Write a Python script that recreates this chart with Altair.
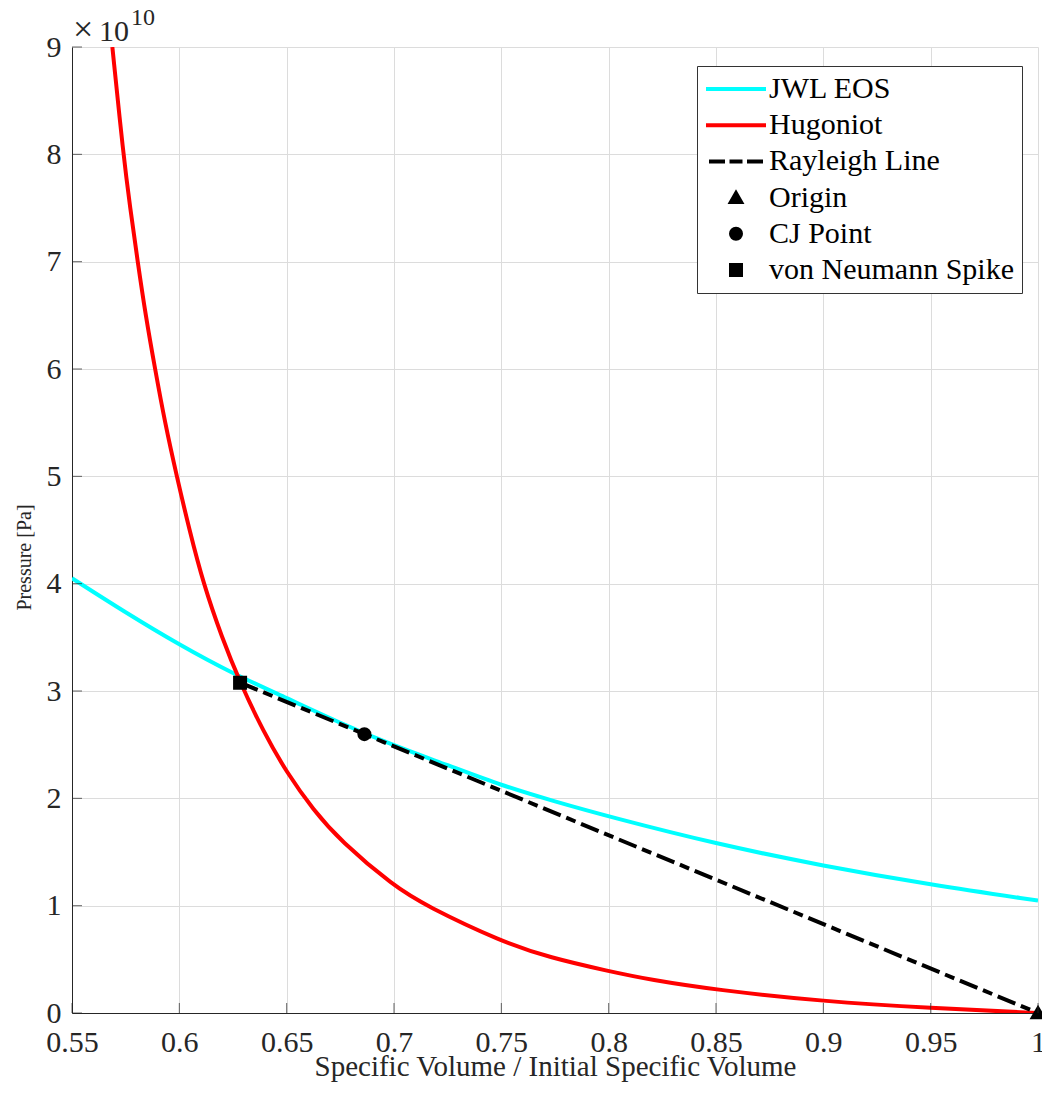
import altair as alt
import pandas as pd

# Hugoniot of the unreacted explosive: relative volume v/v0 and pressure [Pa]
hug_v = [0.5688, 0.5739, 0.5771, 0.5806, 0.5843, 0.5887, 0.5933, 0.5988, 0.6047, 0.6112,
         0.6198, 0.6283, 0.6392, 0.6500, 0.6625, 0.6750, 0.7000, 0.7148, 0.7500, 0.7727,
         0.8000, 0.8193, 0.8500, 0.9000, 0.9500, 1.0000]
hug_p = [9.0e10, 8.0e10, 7.5e10, 7.0e10, 6.5e10, 6.0e10, 5.5e10, 5.0e10, 4.5e10, 4.0e10,
         3.5e10, 3.078e10, 2.62e10, 2.24e10, 1.89e10, 1.605e10, 1.18e10, 1.0e10, 0.665e10, 0.515e10,
         0.39e10, 0.31e10, 0.215e10, 0.108e10, 0.045e10, 0.0]

# JWL equation of state of the detonation products
jwl_v = [0.55, 0.575, 0.60, 0.625, 0.65, 0.675, 0.70, 0.725, 0.75, 0.775, 0.80,
         0.85, 0.90, 0.95, 1.00]
jwl_p = [4.05e10, 3.73e10, 3.43e10, 3.16e10, 2.935e10, 2.70e10, 2.49e10, 2.31e10,
         2.12e10, 1.97e10, 1.83e10, 1.575e10, 1.37e10, 1.195e10, 1.047e10]

# Characteristic states
pt_names = ["Origin", "CJ Point", "von Neumann Spike"]
pt_v = [1.0, 0.6862, 0.6283]
pt_p = [0.0, 2.598e10, 3.078e10]

# Legend entries, colours and symbols (lines drawn as short path segments)
series = ["JWL EOS", "Hugoniot", "Rayleigh Line", "Origin", "CJ Point", "von Neumann Spike"]
series_colors = ["#00FFFF", "#FF0000", "#000000", "#000000", "#000000", "#000000"]
LINE = "M-6,0H6"
DASHED = "M-5.4,0H-2.2M-1.3,0H1.3M2.2,0H5.4"
series_shapes = [LINE, LINE, DASHED, "triangle-up", "circle", "square"]

x_ticks = [0.55, 0.6, 0.65, 0.7, 0.75, 0.8, 0.85, 0.9, 0.95, 1.0]
y_ticks = [0, 1e10, 2e10, 3e10, 4e10, 5e10, 6e10, 7e10, 8e10, 9e10]

FONT = "Liberation Serif"
AX = "#262626"
W, H = 966, 966

df_jwl = pd.DataFrame({"v": jwl_v, "p": jwl_p})
df_hug = pd.DataFrame({"v": hug_v, "p": hug_p})
# Rayleigh line: straight chord from the von Neumann spike to the initial state
df_ray = pd.DataFrame({"v": [pt_v[2], pt_v[0]], "p": [pt_p[2], pt_p[0]]})
df_pts = pd.DataFrame({"v": pt_v, "p": pt_p, "series": pt_names})
df_xt = pd.DataFrame({"v": x_ticks})
df_yt = pd.DataFrame({"p": y_ticks})
df_one = pd.DataFrame({"a": [0]})

xs = alt.Scale(domain=[0.55, 1.0], nice=False, zero=False)
ys = alt.Scale(domain=[0, 9e10], nice=False, zero=False)

x_axis = alt.Axis(values=x_ticks, format="~g", title="Specific Volume / Initial Specific Volume",
                  labelFlush=False, labelOverlap=False, labelBound=False,
                  labelFontSize=30, labelPadding=14, titleFontSize=29,
                  titleBaseline="alphabetic", titleY=62)
y_axis = alt.Axis(values=y_ticks, labelExpr="format(datum.value / 1e10, 'd')",
                  title="Pressure [Pa]", labelFlush=False, labelOverlap=False,
                  labelFontSize=30, labelPadding=11, titleFontSize=20, titlePadding=12,
                  titleY=510)

X = alt.X("v:Q", scale=xs, axis=x_axis)
Y = alt.Y("p:Q", scale=ys, axis=y_axis)

legend = alt.Legend(
    title=None, orient="none", legendX=625, legendY=19, padding=8,
    fillColor="white", strokeColor="#333333",
    labelFont=FONT, labelFontSize=30, labelColor="black", labelOffset=18, labelLimit=0,
    symbolSize=100, symbolOffset=16, symbolStrokeWidth=4, symbolOpacity=1,
    rowPadding=6.2,
)

jwl = alt.Chart(df_jwl).mark_line(color=series_colors[0], strokeWidth=4,
                                  interpolate="basis", clip=True).encode(x=X, y=Y)
hug = alt.Chart(df_hug).mark_line(color=series_colors[1], strokeWidth=4,
                                  interpolate="basis", clip=True).encode(x=X, y=Y)
ray = alt.Chart(df_ray).mark_line(color=series_colors[2], strokeWidth=4,
                                  strokeDash=[19, 6, 10, 6], clip=True).encode(x=X, y=Y)
pts = alt.Chart(df_pts).mark_point(filled=True, size=100, strokeWidth=4, opacity=1).encode(
    x=X, y=Y,
    fill=alt.Fill("series:N", scale=alt.Scale(domain=series, range=series_colors), legend=legend),
    stroke=alt.Stroke("series:N", scale=alt.Scale(domain=series, range=series_colors), legend=legend),
    shape=alt.Shape("series:N", scale=alt.Scale(domain=series, range=series_shapes), legend=legend),
)

# inward-pointing tick marks along the left and bottom axes
xt = alt.Chart(df_xt).mark_tick(orient="vertical", size=10, thickness=1, color=AX).encode(
    x=X, y=alt.value(H - 5))
yt = alt.Chart(df_yt).mark_tick(orient="horizontal", size=10, thickness=1, color=AX).encode(
    y=Y, x=alt.value(5))

# axis multiplier  x10^10
times = alt.Chart(df_one).mark_text(text="\u00d7", font=FONT, fontSize=36, color=AX,
                                    align="left", baseline="alphabetic").encode(
    x=alt.value(1), y=alt.value(-6))
mult = alt.Chart(df_one).mark_text(text="10", font=FONT, fontSize=30, color=AX,
                                   align="left", baseline="alphabetic").encode(
    x=alt.value(27), y=alt.value(-6))
mult_exp = alt.Chart(df_one).mark_text(text="10", font=FONT, fontSize=24, color=AX,
                                       align="left", baseline="alphabetic").encode(
    x=alt.value(59), y=alt.value(-22))

chart = alt.layer(jwl, hug, ray, pts, xt, yt, times, mult, mult_exp).properties(
    width=W, height=H,
    autosize=alt.AutoSizeParams(type="none"),
    padding={"left": 72, "top": 47, "right": 4, "bottom": 84},
    background="white",
).configure_view(stroke=None).configure_axis(
    labelFont=FONT, titleFont=FONT, labelColor=AX, titleColor=AX,
    titleFontWeight="normal", domainColor=AX, domainWidth=1,
    ticks=False, tickSize=0, grid=True, gridColor="#dcdcdc", gridWidth=1,
).configure_legend(
    strokeWidth=1, cornerRadius=0,
)

chart.save("out.html", embed_options={"renderer": "svg", "actions": False})
